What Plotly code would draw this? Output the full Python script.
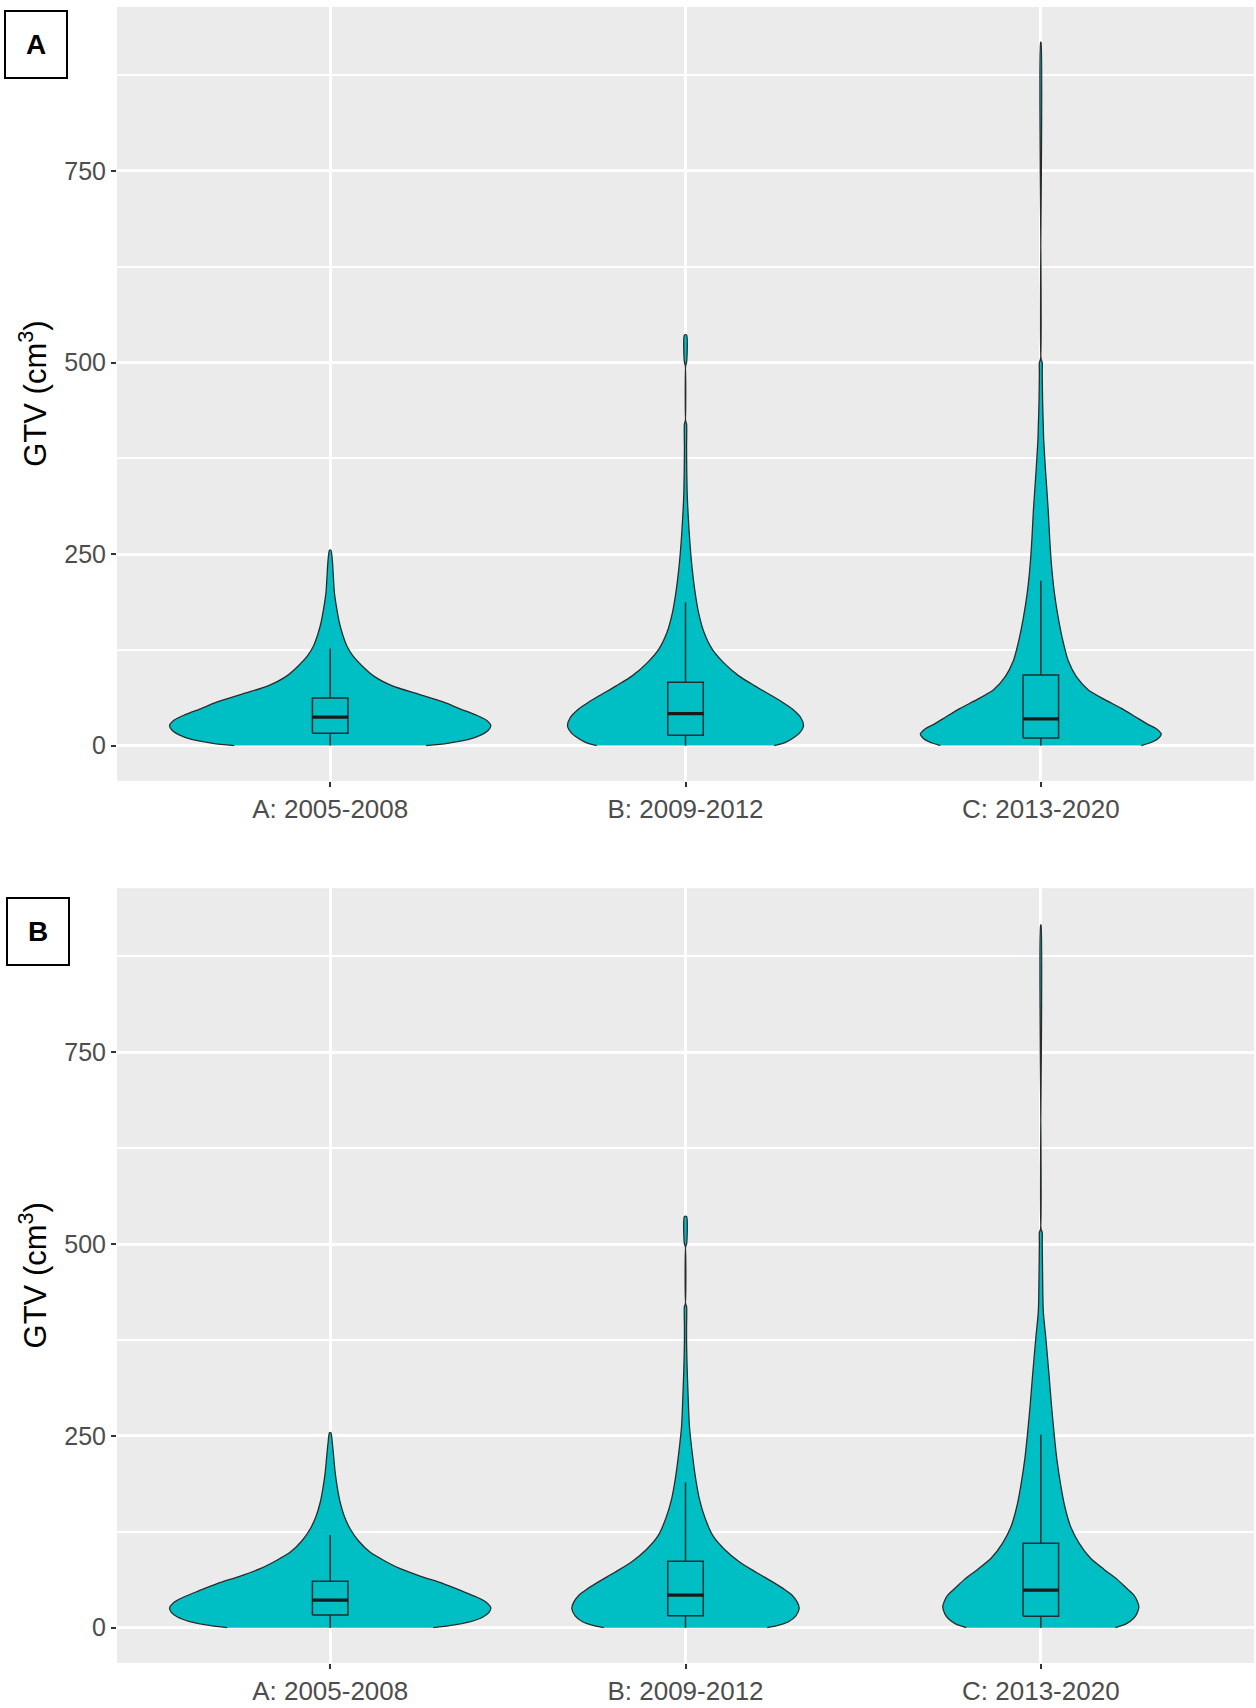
import plotly.graph_objects as go

periods = ["A: 2005-2008", "B: 2009-2012", "C: 2013-2020"]
centers = [1, 2, 3]

# violin outlines: GTV level (cm3) and half width (category units)
# panel A (top)
top_0508_gtv = [0, 3, 8, 14, 20, 26, 33, 40, 48, 57, 67, 78, 90, 104, 117, 130, 145, 160, 180, 199, 220, 242, 255]
top_0508_hw = [0.27, 0.33, 0.39, 0.425, 0.445, 0.452, 0.44, 0.41, 0.365, 0.318, 0.25, 0.175, 0.125, 0.09,
               0.064, 0.047, 0.035, 0.026, 0.018, 0.012, 0.009, 0.006, 0.002]
top_0912_gtv = [0, 4, 9, 16, 25.6, 36, 48, 56, 65, 78, 91, 108, 126, 148, 173, 200, 230, 255, 281, 325, 360,
                389, 420, 424, 496, 500, 536]
top_0912_hw = [0.25, 0.28, 0.30, 0.32, 0.332, 0.325, 0.30, 0.275, 0.243, 0.195, 0.15, 0.108, 0.075, 0.052,
               0.037, 0.027, 0.019, 0.014, 0.01, 0.005, 0.0035, 0.003, 0.003, 0.0006, 0.0006, 0.003, 0.003]
top_1320_gtv = [0, 5, 10, 15, 22, 28, 38, 48.6, 60, 73, 90, 111, 137, 167, 200, 236, 270, 306, 361, 400, 417,
                450, 486, 500, 505, 918]
top_1320_hw = [0.283, 0.315, 0.332, 0.339, 0.325, 0.30, 0.265, 0.227, 0.18, 0.133, 0.1, 0.077, 0.062, 0.049,
               0.038, 0.030, 0.025, 0.021, 0.013, 0.008, 0.007, 0.005, 0.004, 0.004, 0.0006, 0.0006]

# panel B (bottom)
bot_0508_gtv = [0, 3, 8, 14, 20, 26, 33, 40, 48, 57.5, 67, 77, 88, 98.6, 113, 129, 145, 163.5, 183, 202.5, 222,
                241, 254]
bot_0508_hw = [0.29, 0.34, 0.395, 0.43, 0.447, 0.452, 0.44, 0.412, 0.37, 0.318, 0.255, 0.197, 0.15, 0.112,
               0.08, 0.056, 0.04, 0.028, 0.02, 0.014, 0.01, 0.006, 0.002]
bot_0912_gtv = [0, 3, 7.8, 15, 25, 33, 42.4, 50, 59.7, 72, 85.7, 102, 120, 143, 168, 193, 220, 263, 306, 340,
                371, 393, 419, 422, 497, 500, 536]
bot_0912_hw = [0.23, 0.26, 0.29, 0.31, 0.32, 0.315, 0.30, 0.278, 0.245, 0.2, 0.152, 0.11, 0.077, 0.055, 0.039,
               0.029, 0.021, 0.011, 0.007, 0.0045, 0.003, 0.003, 0.003, 0.0006, 0.0006, 0.003, 0.003]
bot_1320_gtv = [0, 5, 11.6, 18, 27, 34, 42.5, 52, 63, 76, 90.5, 110, 131.6, 157, 186, 220, 255, 290, 330, 378,
                412, 460, 502, 515, 520, 916]
bot_1320_hw = [0.21, 0.24, 0.26, 0.27, 0.276, 0.272, 0.262, 0.24, 0.215, 0.178, 0.14, 0.108, 0.084, 0.068,
               0.056, 0.045, 0.037, 0.03, 0.023, 0.014, 0.007, 0.005, 0.004, 0.004, 0.0006, 0.0006]

# box plot summaries (cm3)
top_q1 = [16, 13.6, 10]
top_median = [37.3, 41.7, 35]
top_q3 = [62, 82.6, 92]
top_whisker_lo = [0, 0, 0]
top_whisker_hi = [126.7, 187, 215]

bot_q1 = [16.5, 15.6, 15]
bot_median = [36, 42.4, 49]
bot_q3 = [60.6, 86.5, 110]
bot_whisker_lo = [0, 0, 0]
bot_whisker_hi = [121, 189.5, 251.5]

TEAL = "#00BFC4"
FONT = "Liberation Sans, Arial, sans-serif"
BOX_W = 0.1

fig = go.Figure()


def add_violin(center, gtv, hw, xa, ya):
    xs = [center + w for w in hw] + [center - w for w in reversed(hw)]
    ys = list(gtv) + list(reversed(gtv))
    fig.add_trace(go.Scatter(x=xs, y=ys, mode="lines", fill="toself", fillcolor=TEAL,
                             line=dict(color="#2b2b2b", width=1.3, shape="spline", smoothing=0.7),
                             xaxis=xa, yaxis=ya, hoverinfo="skip"))


def add_boxes(q1, med, q3, lo, hi, xa, ya):
    # box traces sit under scatter traces in plotly, so the boxes are drawn as scatter too
    h = BOX_W / 2
    wx, wy, bx, by, mx, my = [], [], [], [], [], []
    for c, a, m, b, l, u in zip(centers, q1, med, q3, lo, hi):
        wx += [c, c, None, c, c, None]
        wy += [l, a, None, b, u, None]
        bx += [c - h, c + h, c + h, c - h, c - h, None]
        by += [a, a, b, b, a, None]
        mx += [c - h, c + h, None]
        my += [m, m, None]
    fig.add_trace(go.Scatter(x=wx, y=wy, mode="lines", line=dict(color="#1f2f33", width=1.5),
                             xaxis=xa, yaxis=ya, hoverinfo="skip"))
    fig.add_trace(go.Scatter(x=bx, y=by, mode="lines", fill="toself", fillcolor=TEAL,
                             line=dict(color="#1f2f33", width=1.5),
                             xaxis=xa, yaxis=ya, hoverinfo="skip"))
    # ggplot draws the median thicker
    fig.add_trace(go.Scatter(x=mx, y=my, mode="lines", line=dict(color="#1a1a1a", width=3.2),
                             xaxis=xa, yaxis=ya, hoverinfo="skip"))


for c, g, w in zip(centers, [top_0508_gtv, top_0912_gtv, top_1320_gtv],
                   [top_0508_hw, top_0912_hw, top_1320_hw]):
    add_violin(c, g, w, "x", "y")
add_boxes(top_q1, top_median, top_q3, top_whisker_lo, top_whisker_hi, "x", "y")

for c, g, w in zip(centers, [bot_0508_gtv, bot_0912_gtv, bot_1320_gtv],
                   [bot_0508_hw, bot_0912_hw, bot_1320_hw]):
    add_violin(c, g, w, "x2", "y2")
add_boxes(bot_q1, bot_median, bot_q3, bot_whisker_lo, bot_whisker_hi, "x2", "y2")

xaxis_style = dict(range=[0.4, 3.6], tickmode="array", tickvals=centers, ticktext=periods,
                   showgrid=True, gridcolor="white", gridwidth=3, zeroline=False,
                   ticks="outside", ticklen=5, tickwidth=1.5, tickcolor="#333333",
                   tickfont=dict(family=FONT, size=26, color="#4D4D4D"), showline=False)
yaxis_style = dict(range=[-46, 964], tickmode="array", tickvals=[0, 250, 500, 750],
                   showgrid=True, gridcolor="white", gridwidth=3, zeroline=False,
                   ticks="outside", ticklen=5, tickwidth=1.5, tickcolor="#333333",
                   tickfont=dict(family=FONT, size=25, color="#4D4D4D"), showline=False,
                   minor=dict(tickmode="array", tickvals=[125, 375, 625, 875], showgrid=True,
                              gridcolor="white", gridwidth=1.8, ticks=""))

fig.update_layout(
    width=1256, height=1708,
    margin=dict(l=117, r=2, t=7, b=36),
    paper_bgcolor="white", plot_bgcolor="#EBEBEB",
    showlegend=False,
    font=dict(family=FONT),
    xaxis=dict(xaxis_style, domain=[0, 1], anchor="y"),
    yaxis=dict(yaxis_style, domain=[0.5327, 1], anchor="x"),
    xaxis2=dict(xaxis_style, domain=[0, 1], anchor="y2"),
    yaxis2=dict(yaxis_style, domain=[0, 0.4679], anchor="x2"),
)

# y-axis titles and panel tags
for ymid in [(0.5327 + 1) / 2, 0.4679 / 2]:
    fig.add_annotation(text="GTV (cm<sup>3</sup>)", xref="paper", yref="paper", x=-0.074, y=ymid,
                       textangle=-90, showarrow=False, xanchor="center", yanchor="middle",
                       font=dict(family=FONT, size=31, color="black"))

for tag, tx, ty in [("A", -0.0712, 0.9775), ("B", -0.0691, 0.4417)]:
    fig.add_annotation(text="<b>%s</b>" % tag, xref="paper", yref="paper", x=tx, y=ty,
                       showarrow=False, xanchor="center", yanchor="middle",
                       width=60, height=65, borderpad=0, bordercolor="black", borderwidth=2,
                       bgcolor="white", font=dict(family=FONT, size=28, color="black"))

# the page's default body margin would shift the whole figure by 8px
fig.write_html("out.html", config={"displayModeBar": False},
               post_script="document.body.style.margin = '0';")
